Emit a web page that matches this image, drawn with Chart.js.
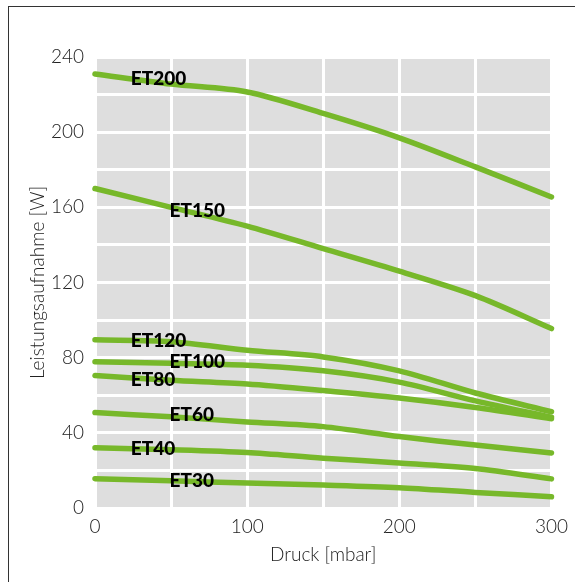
<!DOCTYPE html>
<html>
<head>
<meta charset="utf-8">
<script src="https://cdn.jsdelivr.net/npm/chart.js@4/dist/chart.umd.min.js"></script>
<style>
  html, body { margin: 0; padding: 0; background: #fff; overflow: hidden; }
  #frame { position: absolute; left: 8px; top: 6px; width: 700px; height: 700px; border: 1.5px solid #333; box-sizing: border-box; }
  #wrap { position: absolute; left: 0; top: 0; width: 575px; height: 582px; }
</style>
</head>
<body>
<div id="frame"></div>
<div id="wrap"><canvas id="chart" width="575" height="582"></canvas></div>
<script>
let pressure = [0, 50, 100, 150, 200, 250, 300];

let et200 = [231, 225.6, 221.4, 210, 197, 181.5, 165.5];
let et150 = [170, 160, 150, 138, 126, 113, 95.5];
let et120 = [89.5, 88.5, 84, 80.4, 73, 61.2, 51.2];
let et100 = [77.8, 77, 76, 73, 67, 57, 48.3];
let et80 = [70.5, 68, 66, 62.5, 58.5, 53.5, 47.5];
let et60 = [50.8, 48.5, 45.8, 43.3, 38, 33.5, 29.3];
let et40 = [32, 31, 29.5, 26.5, 24, 21, 15.5];
let et30 = [15.6, 14.5, 13.3, 12.2, 10.8, 8.3, 6];

let seriesNames = ["ET200", "ET150", "ET120", "ET100", "ET80", "ET60", "ET40", "ET30"];
let seriesValues = [et200, et150, et120, et100, et80, et60, et40, et30];

// where each name sits (left edge x, middle y, in data units)
let labelX = [23.5, 49, 23.5, 49, 23.5, 49, 23.5, 49];
let labelY = [228.3, 158, 88.9, 77.7, 68.1, 49.5, 31.4, 14.4];

let yTicks = [0, 40, 80, 120, 160, 200, 240];
let xTicks = [0, 100, 200, 300];

let green = "#77b82a";
let tickFont = { family: "Lato, 'Noto Sans', sans-serif", size: 19, weight: 300 };

let datasets = seriesNames.map((name, i) => ({
  label: name,
  data: pressure.map((p, j) => ({ x: p, y: seriesValues[i][j] })),
  borderColor: green,
  borderWidth: 5.5,
  borderCapStyle: "round",
  borderJoinStyle: "round",
  tension: 0.3,
  pointRadius: 0,
  fill: false,
  clip: false,
}));

let plotBackground = {
  id: "plotBackground",
  beforeDraw(chart) {
    let { ctx, chartArea: a } = chart;
    ctx.save();
    ctx.fillStyle = "#dedede";
    ctx.fillRect(a.left, a.top, a.right - a.left, a.bottom - a.top);
    ctx.restore();
  },
};

let curveLabels = {
  id: "curveLabels",
  afterDatasetsDraw(chart) {
    let { ctx, scales } = chart;
    ctx.save();
    ctx.font = "900 19px Lato, 'Noto Sans', sans-serif";
    ctx.fillStyle = "#000";
    ctx.textAlign = "left";
    ctx.textBaseline = "middle";
    seriesNames.forEach((name, i) => {
      ctx.fillText(name, scales.x.getPixelForValue(labelX[i]), scales.y.getPixelForValue(labelY[i]));
    });
    ctx.restore();
  },
};

new Chart(document.getElementById("chart"), {
  type: "line",
  data: { datasets: datasets },
  options: {
    responsive: false,
    animation: false,
    layout: { padding: { left: 0, top: 57, right: 22, bottom: 0 } },
    plugins: { legend: { display: false }, tooltip: { enabled: false } },
    scales: {
      x: {
        type: "linear",
        min: 0,
        max: 300,
        afterFit(scale) { scale.height = 74; },
        ticks: {
          stepSize: 50,
          padding: 7,
          color: "#222",
          font: tickFont,
          maxRotation: 0,
          callback: (v) => (xTicks.includes(v) ? v : ""),
        },
        grid: { color: "#fff", lineWidth: 3, drawTicks: false },
        border: { display: false },
        title: {
          display: true,
          text: "Druck [mbar]",
          color: "#222",
          font: tickFont,
          padding: { top: 0, bottom: 16 },
        },
      },
      y: {
        min: 0,
        max: 240,
        afterFit(scale) { scale.width = 95; },
        ticks: {
          stepSize: 20,
          padding: 11,
          color: "#222",
          font: tickFont,
          callback: (v) => (yTicks.includes(v) ? v : ""),
        },
        grid: { color: "#fff", lineWidth: 3, drawTicks: false },
        border: { display: false },
        title: {
          display: true,
          text: "Leistungsaufnahme [W]",
          color: "#222",
          font: tickFont,
          padding: { top: 26, bottom: 0 },
        },
      },
    },
  },
  plugins: [plotBackground, curveLabels],
});
</script>
</body>
</html>
